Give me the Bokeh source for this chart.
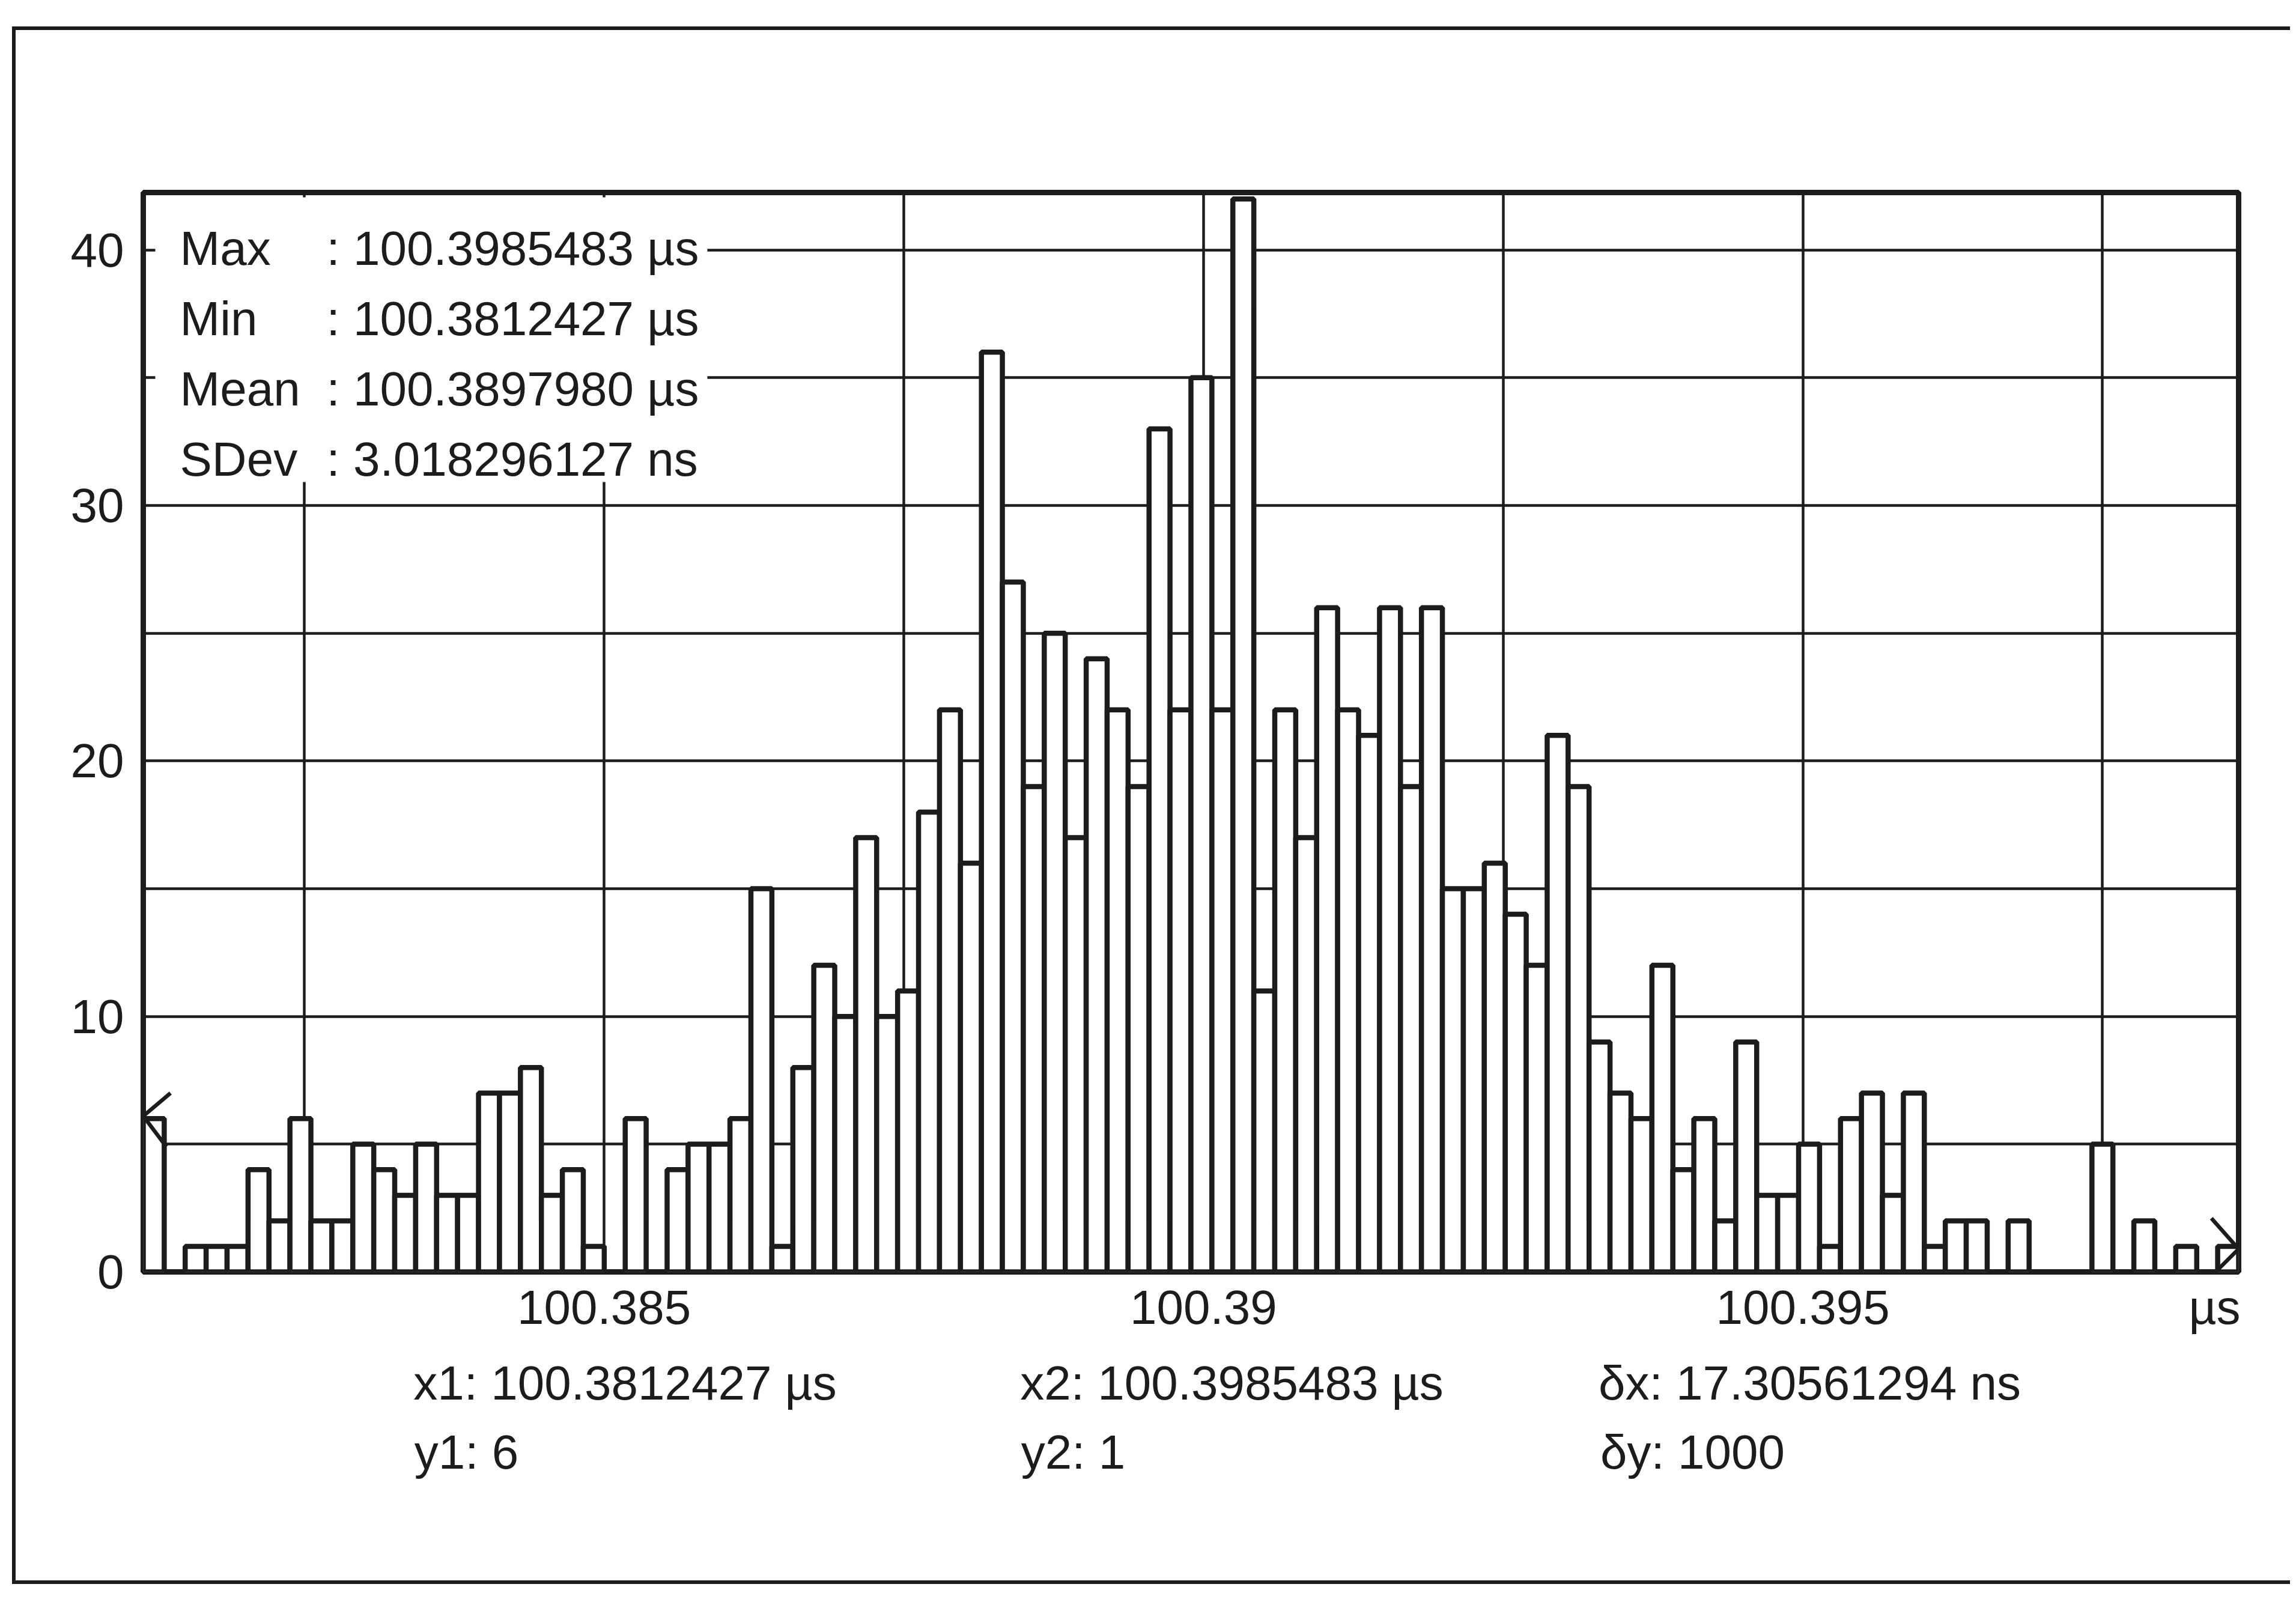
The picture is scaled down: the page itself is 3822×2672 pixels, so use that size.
import numpy as np
from bokeh.plotting import figure
from bokeh.models import (Range1d, FixedTicker, Label, BoxAnnotation, LinearAxis,
                          CustomJSTickFormatter)
from bokeh.embed import file_html
from bokeh.resources import INLINE

t_min = 100.3812427          # µs
t_max = 100.3985483          # µs
counts = [6, 0, 1, 1, 1, 4, 2, 6, 2, 2,
          5, 4, 3, 5, 3, 3, 7, 7, 8, 3,
          4, 1, 0, 6, 0, 4, 5, 5, 6, 15,
          1, 8, 12, 10, 17, 10, 11, 18, 22, 16,
          36, 27, 19, 25, 17, 24, 22, 19, 33, 22,
          35, 22, 42, 11, 22, 17, 26, 22, 21, 26,
          19, 26, 15, 15, 16, 14, 12, 21, 19, 9,
          7, 6, 12, 4, 6, 2, 9, 3, 3, 5,
          1, 6, 7, 3, 7, 1, 2, 2, 0, 2,
          0, 0, 0, 5, 0, 2, 0, 1, 0, 1]
stat_names = ["Max", "Min", "Mean", "SDev"]
stat_values = [": 100.3985483 µs", ": 100.3812427 µs", ": 100.3897980 µs", ": 3.018296127 ns"]
x_tick_values = [100.385, 100.39, 100.395]
x_tick_labels = ["100.385", "100.39", "100.395"]
x_grid_values = [100.3825, 100.385, 100.3875, 100.39, 100.3925, 100.395, 100.3975]
y_tick_values = [0, 10, 20, 30, 40]
y_grid_values = [0, 5, 10, 15, 20, 25, 30, 35, 40]
cursor_x = [100.3812427, 100.3985483]
cursor_y = [6, 1]
readout_row1 = ["x1: 100.3812427 µs", "x2: 100.3985483 µs", "δx: 17.30561294 ns"]
readout_row2 = ["y1: 6", "y2: 1", "δy: 1000"]
unit_label = "µs"

# ---- geometry (page pixels) ----
n = len(counts)
step = (t_max - t_min) / (n - 1)
centers = t_min + step * np.arange(n)
x_lo, x_hi = t_min - step / 2, t_max + step / 2
y_lo, y_hi = 0, 42.25

PAGE_L, PAGE_T, PAGE_B, BW = 20, 44, 2637, 6     # scanned page border
CX0 = PAGE_L + BW                                # canvas origin inside the css border
CY0 = PAGE_T + BW
PX0, PY0, PX1, PY1 = 238, 320, 3726, 2117        # plot frame on page
FW, FH = PX1 - PX0, PY1 - PY0
CW = 3812 - CX0
CH = (PAGE_B - BW) - CY0
BL, BT = PX0 - CX0, PY0 - CY0
BR = CW - BL - FW
BB = CH - BT - FH

def dx(px):
    return x_lo + (px - PX0) / FW * (x_hi - x_lo)

def dy(py):
    return y_lo + (PY1 - py) / FH * (y_hi - y_lo)

FONT = "Liberation Sans"
FS = "80px"
INK = "#1c1c1c"

p = figure(frame_width=FW, frame_height=FH,
           min_border_left=BL, min_border_right=BR, min_border_top=BT, min_border_bottom=BB,
           x_range=Range1d(x_lo, x_hi), y_range=Range1d(y_lo, y_hi),
           output_backend="svg", toolbar_location=None,
           background_fill_color="white", border_fill_color="white")
p.styles = {"margin-left": f"{PAGE_L}px", "margin-top": f"{PAGE_T}px",
            "border-left": f"{BW}px solid {INK}", "border-top": f"{BW}px solid {INK}",
            "border-bottom": f"{BW}px solid {INK}"}

p.outline_line_color = INK
p.outline_line_width = 9

# grid
p.xgrid.ticker = FixedTicker(ticks=x_grid_values)
p.ygrid.ticker = FixedTicker(ticks=y_grid_values)
for g in (p.xgrid, p.ygrid):
    g.grid_line_color = INK
    g.grid_line_width = 4.5
    g.grid_line_alpha = 1.0

def style_axis(ax, standoff):
    ax.axis_line_color = None
    ax.major_tick_line_color = None
    ax.minor_tick_line_color = None
    ax.major_tick_out = 0
    ax.major_tick_in = 0
    ax.major_label_text_font = FONT
    ax.major_label_text_font_size = FS
    ax.major_label_text_color = INK
    ax.major_label_standoff = standoff

# main x axis: tick labels plus the unit at the far end
mu_pos = dx(3686)
p.xaxis.ticker = FixedTicker(ticks=x_tick_values + [mu_pos], minor_ticks=[])
p.xaxis.formatter = CustomJSTickFormatter(args=dict(labels=x_tick_labels + [unit_label]),
                                          code="return labels[index];")
style_axis(p.xaxis[0], 14)
p.yaxis.ticker = FixedTicker(ticks=y_tick_values, minor_ticks=[])
style_axis(p.yaxis[0], 32)

# cursor read-out rows, drawn as extra label-only axes below the plot
row1_centers = [dx(1040), dx(2050), dx(3012)]
row2_centers = [dx(776), dx(1786), dx(2817)]
for centers_, texts, so in ((row1_centers, readout_row1, 34), (row2_centers, readout_row2, 23)):
    ax = LinearAxis(ticker=FixedTicker(ticks=centers_, minor_ticks=[]),
                    formatter=CustomJSTickFormatter(args=dict(labels=texts),
                                                    code="return labels[index];"))
    style_axis(ax, so)
    p.add_layout(ax, "below")

# histogram bars
p.vbar(x=centers, top=counts, width=step, bottom=0,
       fill_color="white", line_color=INK, line_width=8.5)

# cursor markers
p.line(x=[cursor_x[0] + 0.8 * step, cursor_x[0] - 0.5 * step, cursor_x[0] + 0.6 * step],
       y=[cursor_y[0] + 1.0, cursor_y[0] + 0.1, cursor_y[0] - 1.1],
       line_color=INK, line_width=6.5)
p.line(x=[cursor_x[1] - 0.8 * step, cursor_x[1] + 0.5 * step, cursor_x[1] - 0.6 * step],
       y=[cursor_y[1] + 1.1, cursor_y[1] - 0.1, cursor_y[1] - 1.0],
       line_color=INK, line_width=6.5)

# statistics box
p.add_layout(BoxAnnotation(left=dx(258), right=dx(1177), top=dy(328), bottom=dy(802),
                           fill_color="white", fill_alpha=1.0, line_color=None))
for i, (nm, vl) in enumerate(zip(stat_names, stat_values)):
    base = 413 + 117 * i
    p.add_layout(Label(x=dx(299), y=dy(base), text=nm, text_font=FONT, text_font_size=FS,
                       text_color=INK, text_baseline="alphabetic"))
    p.add_layout(Label(x=dx(543), y=dy(base), text=vl, text_font=FONT, text_font_size=FS,
                       text_color=INK, text_baseline="alphabetic"))

open("out.html", "w").write(file_html(p, INLINE))
